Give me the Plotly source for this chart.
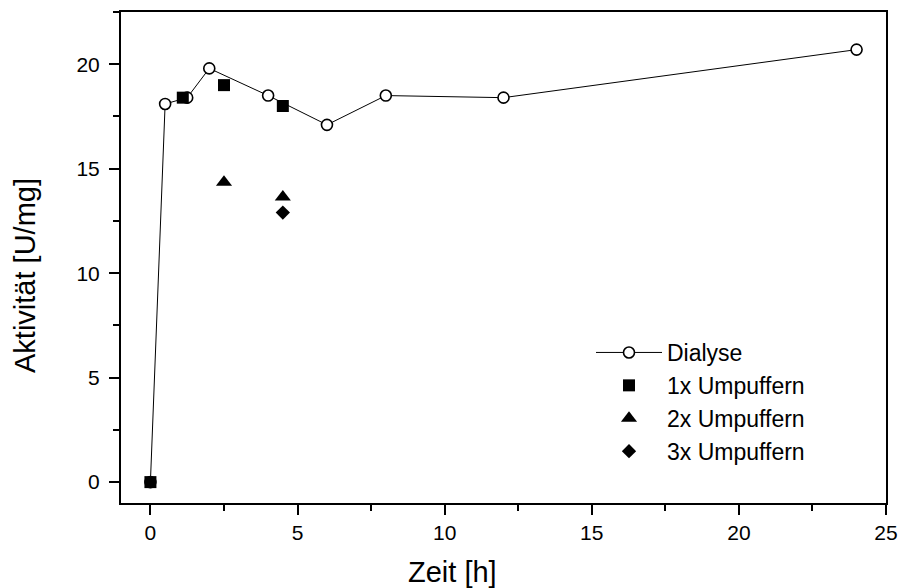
import plotly.graph_objects as go

dial_x = [0, 0.5, 1.25, 2, 4, 6, 8, 12, 24]
dial_y = [0, 18.1, 18.4, 19.8, 18.5, 17.1, 18.5, 18.4, 20.7]
u1_x = [0, 1.1, 2.5, 4.5]
u1_y = [0, 18.4, 19.0, 18.0]
u2_x = [2.5, 4.5]
u2_y = [14.35, 13.65]
u3_x = [4.5]
u3_y = [12.9]

FONT = "Liberation Sans, Arial, sans-serif"

fig = go.Figure()
fig.add_trace(go.Scatter(x=dial_x, y=dial_y, mode="lines+markers", name="Dialyse",
                         line=dict(color="black", width=1),
                         marker=dict(symbol="circle", size=11, color="white",
                                     line=dict(color="black", width=1.6))))
fig.add_trace(go.Scatter(x=u1_x, y=u1_y, mode="markers", name="1x Umpuffern",
                         marker=dict(symbol="square", size=12, color="black")))
fig.add_trace(go.Scatter(x=u2_x, y=u2_y, mode="markers", name="2x Umpuffern",
                         marker=dict(symbol="triangle-up", size=14, color="black")))
fig.add_trace(go.Scatter(x=u3_x, y=u3_y, mode="markers", name="3x Umpuffern",
                         marker=dict(symbol="diamond", size=11, color="black")))

axis_common = dict(showline=True, linewidth=2, linecolor="black", mirror=True,
                   ticks="outside", ticklen=10, tickwidth=2, tickcolor="black",
                   showgrid=False, zeroline=False, automargin=False,
                   tickfont=dict(family=FONT, size=21, color="black"))

fig.update_xaxes(range=[-1, 25], tick0=0, dtick=5,
                 minor=dict(dtick=2.5, ticks="outside", ticklen=6, tickwidth=2, tickcolor="black"),
                 **axis_common)
fig.update_yaxes(range=[-1, 22.5], tick0=0, dtick=5, ticklabelstandoff=5,
                 minor=dict(dtick=2.5, ticks="outside", ticklen=6, tickwidth=2, tickcolor="black"),
                 **axis_common)

PW, PH = 765, 491
fig.add_annotation(text="Zeit [h]", xref="paper", yref="paper",
                   x=(452 - 121) / PW, y=-(572 - 503) / PH,
                   showarrow=False, xanchor="center", yanchor="middle",
                   font=dict(family=FONT, size=29, color="black"))
fig.add_annotation(text="Aktivität [U/mg]", xref="paper", yref="paper",
                   x=-(121 - 25) / PW, y=(503 - 276) / PH, textangle=-90,
                   showarrow=False, xanchor="center", yanchor="middle",
                   font=dict(family=FONT, size=29, color="black"))

fig.update_layout(
    width=898, height=588,
    margin=dict(l=121, r=12, t=12, b=85, autoexpand=False),
    plot_bgcolor="white", paper_bgcolor="white",
    font=dict(family=FONT, color="black"),
    showlegend=True,
    legend=dict(x=(591 - 121) / PW, y=(503 - 331) / PH, xanchor="left", yanchor="top",
                bgcolor="rgba(0,0,0,0)", font=dict(family=FONT, size=23, color="black"),
                itemwidth=66, tracegroupgap=0),
)

fig.write_html("out.html")
